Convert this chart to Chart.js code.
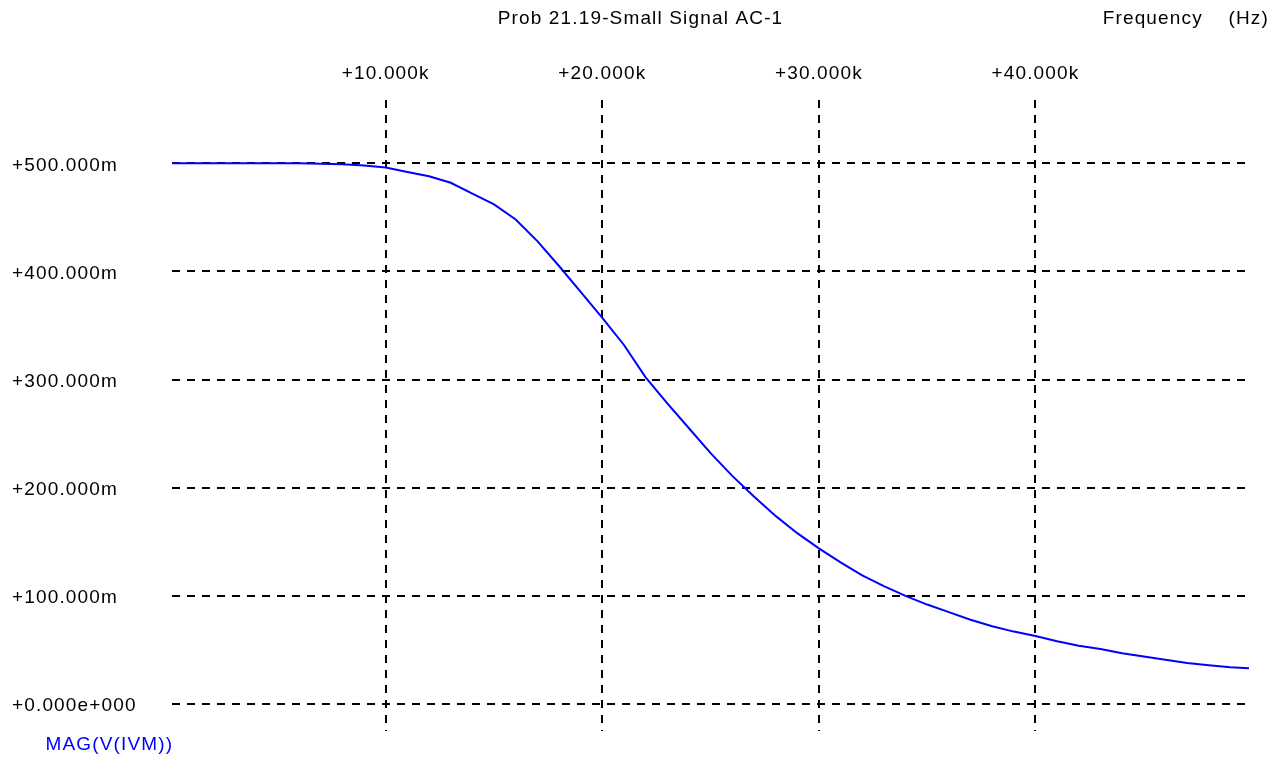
<!DOCTYPE html>
<html>
<head>
<meta charset="utf-8">
<script src="https://cdn.jsdelivr.net/npm/chart.js@4/dist/chart.umd.min.js"></script>
<style>
  html, body { margin: 0; padding: 0; background: #ffffff; }
  #wrap { width: 1284px; height: 770px; }
</style>
</head>
<body>
<div id="wrap"><canvas id="c" width="1284" height="770"></canvas></div>
<script>
const titleText = 'Prob 21.19-Small Signal AC-1';
const xAxisLabel = 'Frequency    (Hz)';
const seriesName = 'MAG(V(IVM))';

const freqHz = [130, 2000, 4000, 6000, 8000, 9000, 10000, 11000, 12000, 13000, 14000, 15000,
  16000, 17000, 18000, 19000, 20000, 21000, 22000, 23000, 24000, 25000, 26000, 27000,
  28000, 29000, 30000, 31000, 32000, 33000, 34000, 35000, 36000, 37000, 38000, 39000,
  40000, 41000, 42000, 43000, 44000, 45000, 46000, 47000, 48000, 49000, 49860];
const magV = [0.500, 0.500, 0.500, 0.500, 0.499, 0.498, 0.496, 0.492, 0.488, 0.482, 0.472, 0.462,
  0.448, 0.428, 0.405, 0.381, 0.357, 0.332, 0.302, 0.278, 0.255, 0.232, 0.211, 0.192,
  0.174, 0.158, 0.144, 0.131, 0.119, 0.109, 0.100, 0.092, 0.085, 0.078, 0.072, 0.067,
  0.063, 0.058, 0.054, 0.051, 0.047, 0.044, 0.041, 0.038, 0.036, 0.034, 0.033];

const xTickValues = [10000, 20000, 30000, 40000];
const xTickLabels = ['+10.000k', '+20.000k', '+30.000k', '+40.000k'];
const yTickValues = [0, 0.1, 0.2, 0.3, 0.4, 0.5];
const yTickLabels = ['+0.000e+000', '+100.000m', '+200.000m', '+300.000m', '+400.000m', '+500.000m'];

const LS = '1.15px';
const spacingPlugin = {
  id: 'spacing',
  beforeInit(c) { c.ctx.letterSpacing = LS; },
  beforeUpdate(c) { c.ctx.letterSpacing = LS; },
  beforeLayout(c) { c.ctx.letterSpacing = LS; },
  beforeDraw(c) { c.ctx.letterSpacing = LS; }
};

Chart.defaults.font.family = '"Liberation Sans", Arial, sans-serif';
Chart.defaults.font.size = 19;
Chart.defaults.color = '#000000';

const gridStyle = { color: '#000000', lineWidth: 2, drawTicks: false };
const borderStyle = { display: false, dash: [8, 7] };

new Chart(document.getElementById('c'), {
  type: 'line',
  data: {
    datasets: [{
      label: seriesName,
      data: freqHz.map((f, i) => ({ x: f, y: magV[i] })),
      borderColor: '#0000ff',
      borderWidth: 2,
      pointRadius: 0,
      tension: 0,
      fill: false
    }]
  },
  plugins: [spacingPlugin],
  options: {
    responsive: false,
    animation: false,
    events: [],
    layout: { padding: { left: 12, right: 15, top: 0, bottom: 6 } },
    plugins: {
      title: {
        display: true,
        text: titleText,
        font: { size: 19, weight: 'normal' },
        color: '#000000',
        padding: { top: 7, bottom: -22.8 }
      },
      subtitle: {
        display: true,
        text: xAxisLabel,
        align: 'end',
        font: { size: 19, weight: 'normal' },
        color: '#000000',
        padding: { top: 0, bottom: 30.2 }
      },
      legend: {
        display: true,
        position: 'bottom',
        align: 'start',
        labels: {
          boxWidth: 20,
          boxHeight: 18,
          padding: 4,
          color: '#0000ff',
          font: { size: 19 },
          generateLabels(chart) {
            return chart.data.datasets.map((d, i) => ({
              text: d.label,
              fillStyle: 'rgba(0,0,0,0)',
              strokeStyle: 'rgba(0,0,0,0)',
              lineWidth: 0,
              fontColor: '#0000ff',
              hidden: false,
              datasetIndex: i
            }));
          }
        }
      },
      tooltip: { enabled: false }
    },
    scales: {
      x: {
        type: 'linear',
        position: 'top',
        min: 130,
        max: 49860,
        z: 1,
        grid: gridStyle,
        border: borderStyle,
        afterBuildTicks(scale) { scale.ticks = xTickValues.map(v => ({ value: v })); },
        afterFit(scale) { scale.height = 40; },
        ticks: {
          autoSkip: false,
          maxRotation: 0,
          padding: 15,
          callback: (v, i) => xTickLabels[i]
        }
      },
      y: {
        type: 'linear',
        position: 'left',
        min: -0.0249,
        max: 0.5585,
        z: 1,
        grid: gridStyle,
        border: borderStyle,
        afterBuildTicks(scale) { scale.ticks = yTickValues.map(v => ({ value: v })); },
        afterFit(scale) { scale.width = 160; },
        ticks: {
          autoSkip: false,
          crossAlign: 'far',
          labelOffset: 2,
          callback: (v, i) => yTickLabels[i]
        }
      },
      y2: {
        type: 'linear',
        position: 'right',
        display: true,
        grid: { display: false, drawTicks: false },
        border: { display: false },
        ticks: { display: false },
        afterFit(scale) { scale.width = 20; }
      }
    }
  }
});
</script>
</body>
</html>
